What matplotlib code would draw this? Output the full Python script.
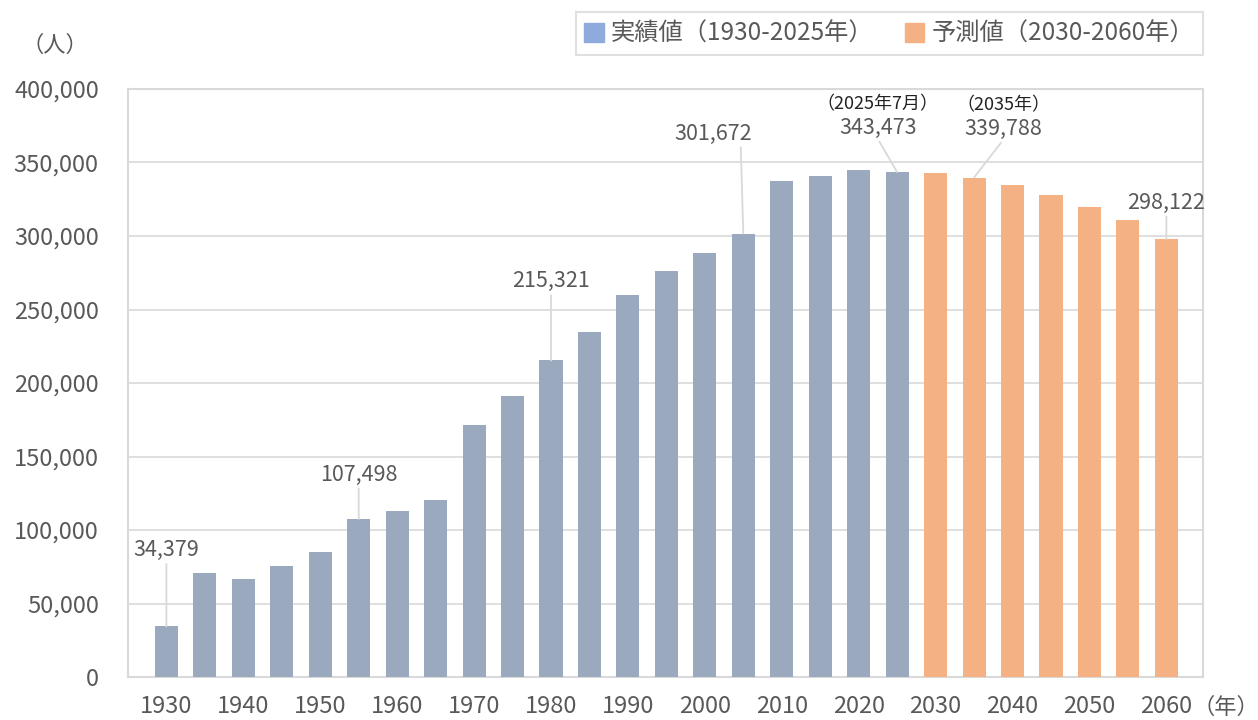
import matplotlib
matplotlib.use("Agg")
import matplotlib.pyplot as plt
from matplotlib.patches import Patch
from matplotlib.ticker import FuncFormatter

plt.rcParams['font.family'] = ['Noto Sans CJK JP', 'DejaVu Sans']

# population by year (actual 1930-2025, projected 2030-2060)
years = list(range(1930, 2065, 5))
population = [34379, 70700, 66700, 75500, 85000, 107498, 113000, 120400,
              171400, 191200, 215321, 234700, 259900, 276200, 288400, 301672,
              337400, 340800, 344900, 343473,
              342900, 339788, 334700, 327900, 319700, 310900, 298122]
n_actual = 20

# labelled bars: year -> (note above value, dx, dy in points)
labelled = {1930: ("", 0, 55), 1955: ("", 0, 32), 1980: ("", 0, 57),
            2005: ("", -22, 72), 2025: ("（2025年7月）", -14, 32),
            2035: ("（2035年）", 21, 35), 2060: ("", 0, 26)}

c_actual = '#9aa9be'
c_actual_leg = '#8faadc'
c_pred = '#f4b183'
grey = '#d9d9d9'
txt = '#595959'

fig = plt.figure(figsize=(12.58, 7.2), dpi=100)
ax = fig.add_axes([0.1017, 0.0597, 0.8545, 0.8167])

x = list(range(len(years)))
colors = [c_actual] * n_actual + [c_pred] * (len(years) - n_actual)
ax.bar(x, population, width=0.6, color=colors, zorder=3)

ax.set_xlim(-1.0, len(years) - 0.05)
ax.set_ylim(0, 400000)
ax.set_yticks(range(0, 400001, 50000))
ax.yaxis.set_major_formatter(FuncFormatter(lambda v, p: f"{int(v):,}"))
ax.set_xticks(x[::2])
ax.set_xticklabels([str(y) for y in years[::2]])
ax.tick_params(length=0, labelsize=17, labelcolor=txt)
ax.tick_params(axis='x', pad=13)
ax.tick_params(axis='y', pad=21)
ax.grid(axis='y', color=grey, linewidth=1.2, zorder=0)
for s in ax.spines.values():
    s.set_color(grey)
    s.set_linewidth(1.5)

for yr, (note, dx, dy) in labelled.items():
    i = years.index(yr)
    v = population[i]
    relpos = (0.86, 0) if yr == 2005 else (0.5, 0)
    ax.annotate(f"{v:,}", xy=(i, v), xytext=(dx, dy), textcoords='offset points',
                ha='center', va='center', fontsize=15.5, color=txt,
                arrowprops=dict(arrowstyle='-', color=grey, lw=1.3,
                                shrinkA=0, shrinkB=0, relpos=relpos))
    if note:
        ax.annotate(note, xy=(i, v), xytext=(dx, dy + 17), textcoords='offset points',
                    ha='center', va='center', fontsize=13, color='#222222')

fig.text(55 / 1258, 1 - 45 / 720, "（人）", ha='center', va='center', fontsize=16, color=txt)
fig.text(1226 / 1258, 1 - 707 / 720, "（年）", ha='center', va='center', fontsize=16, color=txt)

handles = [Patch(color=c_actual_leg), Patch(color=c_pred)]
leg = fig.legend(handles, ["実績値（1930-2025年）", "予測値（2030-2060年）"],
                 loc='upper right', bbox_to_anchor=(0.9563, 0.983), ncol=2,
                 fontsize=17.5, frameon=True, fancybox=False, edgecolor=grey,
                 handlelength=0.8, handleheight=0.8, handletextpad=0.3,
                 columnspacing=1.3, borderpad=0.35, borderaxespad=0)
leg.get_frame().set_linewidth(1.5)
for t in leg.get_texts():
    t.set_color(txt)

fig.savefig("out.png", dpi=100)
